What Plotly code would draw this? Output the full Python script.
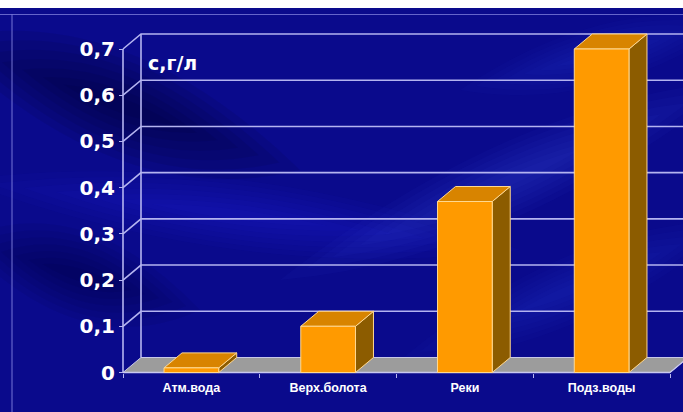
import plotly.graph_objects as go

# ---- data -------------------------------------------------------------
categories = ["Атм.вода", "Верх.болота", "Реки", "Подз.воды"]
values = [0.01, 0.1, 0.37, 0.7]
y_ticks = [0, 0.1, 0.2, 0.3, 0.4, 0.5, 0.6, 0.7]
y_tick_text = ["0", "0,1", "0,2", "0,3", "0,4", "0,5", "0,6", "0,7"]
unit_label = "с,г/л"

# ---- page geometry ------------------------------------------------------
W, H = 683, 412
FRONT_X0, FRONT_X1 = 123, 670      # front edge of the floor (px)
FRONT_Y0, FRONT_YTOP = 372.5, 49   # value 0 and value 0.7 on the front plane (px)
UX = (FRONT_X1 - FRONT_X0) / len(categories)        # px per category
UY = (FRONT_Y0 - FRONT_YTOP) / y_ticks[-1]          # px per value unit
DX, DY = 18 / UX, 15 / UY                            # depth offset in axis units

x_range = [-FRONT_X0 / UX, (W - FRONT_X0) / UX]
y_range = [-(H - FRONT_Y0) / UY, FRONT_Y0 / UY]
BAR_W = 0.4

ORANGE = "#FF9A00"
ORANGE_TOP = "#D88400"
ORANGE_SIDE = "#8C5C00"
EDGE = "#FFD890"
GRID = "#B4B4F0"
BG = "#0A0A8C"

fig = go.Figure()


def poly(xs, ys, fill, line_color=None, width=0):
    fig.add_trace(go.Scatter(
        x=list(xs) + [xs[0]], y=list(ys) + [ys[0]], mode="lines",
        fill="toself", fillcolor=fill,
        line=dict(color=line_color or fill, width=width),
        hoverinfo="skip", showlegend=False))


def line(xs, ys, color=GRID, width=1.6):
    fig.add_trace(go.Scatter(
        x=xs, y=ys, mode="lines", line=dict(color=color, width=width),
        hoverinfo="skip", showlegend=False))


# back wall gridlines with their diagonals on the side wall
for v in y_ticks[1:]:
    line([0, DX, x_range[1]], [v, v + DY, v + DY])
# back wall left edge and front value axis
line([DX, DX], [DY, y_ticks[-1] + DY])
line([0, 0], [0, y_ticks[-1]])

# floor
n = len(categories)
poly([0, n, n + DX, DX], [0, 0, DY, DY], "#9C9C9C", "#C8C8E8", 1)
line([0, n], [0, 0], "#C8C8F0", 1.6)
line([n, n + DX, n + DX], [0, DY, DY - 0.008], "#C8C8F0", 1.2)

# 3-D columns: side, top and front faces
for i, v in enumerate(values):
    x0 = i + 0.5 - BAR_W / 2
    x1 = i + 0.5 + BAR_W / 2
    poly([x1, x1 + DX, x1 + DX, x1], [0, DY, v + DY, v], ORANGE_SIDE, EDGE, 1)
    poly([x0, x1, x1 + DX, x0 + DX], [v, v, v + DY, v + DY], ORANGE_TOP, EDGE, 1)
    poly([x0, x1, x1, x0], [0, 0, v, v], ORANGE, EDGE, 1)

fig.add_annotation(x=0.17, y=(FRONT_Y0 - 63) / UY, xref="x", yref="y",
                   text=unit_label, showarrow=False, xanchor="left",
                   font=dict(family="DejaVu Sans", size=19, color="white",
                             weight="bold"))


# soft lens-shaped light/dark streaks of the slide background (pixel geometry)
def soft_band(p0, p1, half, rgb, alpha, steps=7):
    out = []
    (ax, ay), (bx, by) = p0, p1
    for k in range(steps):
        f = (k + 1) / steps
        h = half * f
        mx, my = (ax + bx) / 2, (ay + by) / 2
        sx, sy = ax + (mx - ax) * (1 - f) * 0.8, ay + (my - ay) * (1 - f) * 0.8
        ex, ey = bx + (mx - bx) * (1 - f) * 0.8, by + (my - by) * (1 - f) * 0.8
        q1x, q1y = (sx + mx) / 2, (sy + my) / 2
        q2x, q2y = (ex + mx) / 2, (ey + my) / 2
        path = (f"M {sx / W:.4f} {1 - sy / H:.4f} "
                f"Q {q1x / W:.4f} {1 - (q1y - h) / H:.4f} {mx / W:.4f} {1 - (my - h) / H:.4f} "
                f"Q {q2x / W:.4f} {1 - (q2y - h) / H:.4f} {ex / W:.4f} {1 - ey / H:.4f} "
                f"Q {q2x / W:.4f} {1 - (q2y + h) / H:.4f} {mx / W:.4f} {1 - (my + h) / H:.4f} "
                f"Q {q1x / W:.4f} {1 - (q1y + h) / H:.4f} {sx / W:.4f} {1 - sy / H:.4f} Z")
        out.append(dict(type="path", xref="paper", yref="paper", layer="below",
                        path=path, line=dict(width=0),
                        fillcolor=f"rgba({rgb},{alpha / steps:.3f})"))
    return out


shapes = []
shapes += soft_band((-60, 40), (300, 170), 55, "0,0,40", 0.60)
shapes += soft_band((-40, 240), (200, 310), 45, "0,0,40", 0.40)
shapes += soft_band((-40, 180), (520, 250), 35, "40,50,255", 0.30)
shapes += soft_band((280, 280), (740, 80), 40, "70,90,255", 0.28)
shapes += soft_band((400, 360), (740, 220), 35, "70,90,255", 0.22)
shapes += soft_band((460, 90), (740, 20), 30, "70,90,255", 0.22)
shapes += [
    # white strip along the top edge of the slide
    dict(type="rect", xref="paper", yref="paper", layer="above",
         x0=0, x1=1, y0=1 - 8 / H, y1=1, fillcolor="#FFFFFF",
         line=dict(width=0)),
    dict(type="line", xref="paper", yref="paper", layer="below",
         x0=0, x1=1, y0=1 - 14.5 / H, y1=1 - 14.5 / H,
         line=dict(color="rgba(140,140,230,0.7)", width=1.2)),
    dict(type="line", xref="paper", yref="paper", layer="below",
         x0=12 / W, x1=12 / W, y0=0, y1=1 - 14.5 / H,
         line=dict(color="rgba(140,140,230,0.7)", width=1.2)),
]

fig.update_layout(
    width=W, height=H, margin=dict(l=0, r=0, t=0, b=0),
    paper_bgcolor=BG, plot_bgcolor="rgba(0,0,0,0)",
    shapes=shapes, showlegend=False,
    xaxis=dict(range=x_range, domain=[0, 1], anchor="free",
               position=(H - FRONT_Y0) / H, showgrid=False, zeroline=False,
               showline=False, tickmode="array",
               tickvals=[i + 0.5 for i in range(n)], ticktext=categories,
               ticks="", ticklabelstandoff=6,
               tickfont=dict(family="Liberation Sans Narrow, Liberation Sans",
                             size=12.5, color="white", weight="bold"),
               minor=dict(tickvals=list(range(n + 1)), ticks="outside",
                          ticklen=4, tickcolor=GRID, tickwidth=1.2),
               fixedrange=True),
    yaxis=dict(range=y_range, domain=[0, 1], anchor="free",
               position=FRONT_X0 / W, showgrid=False, zeroline=False,
               showline=False, tickmode="array", tickvals=y_ticks,
               ticktext=y_tick_text, ticks="outside", ticklen=4,
               tickcolor=GRID, tickwidth=1.2,
               tickfont=dict(family="DejaVu Sans", size=20, color="white",
                             weight="bold"),
               fixedrange=True),
)

fig.write_html("out.html")
